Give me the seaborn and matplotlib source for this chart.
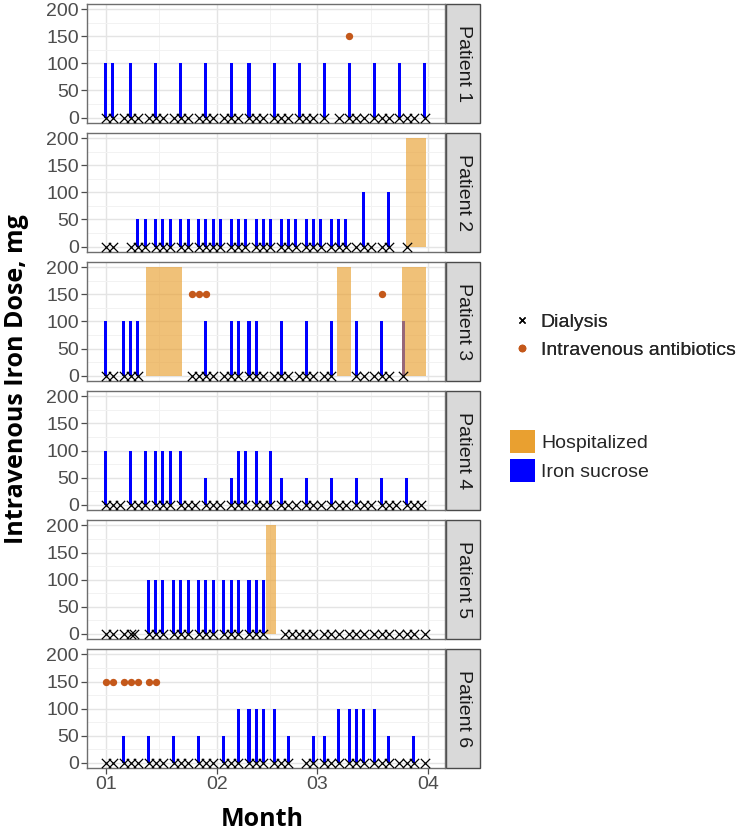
import pandas as pd
import matplotlib.pyplot as plt
import matplotlib.dates as mdates
from matplotlib.lines import Line2D
from matplotlib.patches import Patch, Rectangle
import seaborn as sns

# all days are counted from 1 January
patients = ["Patient 1", "Patient 2", "Patient 3", "Patient 4", "Patient 5", "Patient 6"]

iron1_days = [0, 2, 7, 14, 21, 28, 35, 40, 47, 54, 61, 68, 75, 82, 89]
iron1_dose = [100, 100, 100, 100, 100, 100, 100, 100, 100, 100, 100, 100, 100, 100, 100]
iron2_days = [9, 11, 14, 16, 18, 21, 23, 26, 28, 30, 32, 35, 37, 39, 42, 44, 46,
              49, 51, 53, 56, 58, 60, 63, 65, 67, 72, 79]
iron2_dose = [50, 50, 50, 50, 50, 50, 50, 50, 50, 50, 50, 50, 50, 50, 50, 50, 50,
              50, 50, 50, 50, 50, 50, 50, 50, 50, 100, 100]
iron3_days = [0, 5, 7, 9, 28, 35, 37, 40, 42, 49, 56, 63, 70, 77, 83]
iron3_dose = [100, 100, 100, 100, 100, 100, 100, 100, 100, 100, 100, 100, 100, 100, 100]
iron4_days = [0, 7, 11, 14, 16, 18, 21, 28, 35, 37, 39, 42, 46, 49, 56, 63, 70, 77, 84]
iron4_dose = [100, 100, 100, 100, 100, 100, 100, 50, 50, 100, 100, 100, 100,
              50, 50, 50, 50, 50, 50]
iron5_days = [12, 14, 16, 19, 21, 23, 26, 28, 30, 33, 35, 37, 40, 42, 44]
iron5_dose = [100, 100, 100, 100, 100, 100, 100, 100, 100, 100, 100, 100, 100, 100, 100]
iron6_days = [5, 12, 19, 26, 33, 37, 40, 42, 44, 47, 51, 58, 61, 65, 68, 70, 72, 75, 79, 86]
iron6_dose = [50, 50, 50, 50, 50, 100, 100, 100, 100, 100, 50, 50, 50,
              100, 100, 100, 100, 100, 50, 50]

dial1 = [0, 2, 5, 7, 9, 12, 14, 16, 19, 21, 23, 26, 28, 30, 33, 35, 37, 40, 42, 44,
         47, 49, 51, 54, 56, 58, 61, 65, 68, 70, 72, 75, 77, 79, 82, 84, 86, 89]
dial2 = [0, 2, 7, 9, 11, 14, 16, 18, 21, 23, 26, 28, 30, 32, 35, 37, 39, 42, 44, 46,
         49, 51, 53, 56, 58, 60, 63, 65, 67, 70, 72, 74, 77, 79, 84]
dial3 = [0, 2, 5, 7, 9, 24, 26, 28, 30, 33, 35, 37, 40, 42, 44, 47, 49, 51, 54, 56,
         58, 61, 63, 70, 72, 75, 77, 79, 83]
dial4 = [0, 2, 4, 7, 9, 11, 14, 16, 18, 21, 23, 25, 28, 30, 32, 35, 37, 39, 42, 44,
         46, 49, 51, 53, 56, 58, 60, 63, 65, 67, 70, 72, 74, 77, 79, 81, 84, 86, 88]
dial5 = [0, 2, 5, 7, 8, 12, 14, 16, 19, 21, 23, 26, 28, 30, 33, 35, 37, 40, 42, 44,
         50, 52, 54, 56, 58, 61, 63, 65, 68, 70, 72, 75, 77, 79, 82, 84, 86, 89]
dial6 = [0, 2, 5, 7, 9, 12, 14, 16, 19, 21, 23, 26, 28, 30, 33, 35, 37, 40, 42, 44,
         47, 49, 51, 56, 58, 61, 63, 65, 68, 70, 72, 75, 77, 79, 82, 84, 86, 89]

abx1 = [68]
abx2 = []
abx3 = [24, 26, 28, 77]
abx4 = []
abx5 = []
abx6 = [0, 2, 5, 7, 9, 12, 14]

# hospital stays (start day, end day)
hosp1 = []
hosp2 = [(83.7, 89.5)]
hosp3 = [(11.4, 21.4), (64.7, 68.5), (82.8, 89.5)]
hosp4 = []
hosp5 = [(44.8, 47.5)]
hosp6 = []

dialysis_level = 0
antibiotic_level = 150
hospital_top = 200

iron_days = [iron1_days, iron2_days, iron3_days, iron4_days, iron5_days, iron6_days]
iron_dose = [iron1_dose, iron2_dose, iron3_dose, iron4_dose, iron5_dose, iron6_dose]
dialysis = [dial1, dial2, dial3, dial4, dial5, dial6]
antibiotics = [abx1, abx2, abx3, abx4, abx5, abx6]
hospital = [hosp1, hosp2, hosp3, hosp4, hosp5, hosp6]

start = pd.Timestamp("2019-01-01")


def to_date(d):
    return start + pd.Timedelta(days=d)


rows = []
for p, days, doses in zip(patients, iron_days, iron_dose):
    for d, v in zip(days, doses):
        rows.append({"patient": p, "date": to_date(d), "dose": v})
df_iron = pd.DataFrame(rows)

BLUE = "#0000FF"
ORANGE = "#E9A030"
ABX = "#C4581A"
FS = 14

sns.set_theme(style="white")
plt.rcParams["font.family"] = ["Liberation Sans", "DejaVu Sans"]

g = sns.FacetGrid(df_iron, row="patient", row_order=patients, height=1.3, aspect=3,
                  sharex=True, sharey=True, despine=False)


def draw_iron(data, **kws):
    ax = plt.gca()
    ax.bar(data["date"], data["dose"], width=0.85, color=BLUE, linewidth=0, zorder=2)


g.map_dataframe(draw_iron)
g.set_titles(template="")
g.set_axis_labels("", "")

for i, (p, ax) in enumerate(g.axes_dict.items()):
    # hospital stays
    for s, e in hospital[i]:
        ax.fill_between([to_date(s), to_date(e)], 0, hospital_top,
                        color=ORANGE, alpha=0.65, linewidth=0, zorder=3)
    # dialysis sessions
    df_d = pd.DataFrame({"date": [to_date(d) for d in dialysis[i]],
                         "y": dialysis_level})
    sns.scatterplot(data=df_d, x="date", y="y", marker="x", color="black",
                    s=45, linewidth=0.9, ax=ax, zorder=4, legend=False)
    # antibiotics
    if antibiotics[i]:
        df_a = pd.DataFrame({"date": [to_date(d) for d in antibiotics[i]],
                             "y": antibiotic_level})
        sns.scatterplot(data=df_a, x="date", y="y", marker="o", color=ABX,
                        s=28, linewidth=0, ax=ax, zorder=4, legend=False)

    ax.set_xlim(to_date(-5.2), to_date(94.7))
    ax.set_ylim(-10, 210)
    ax.xaxis.set_major_locator(mdates.MonthLocator())
    ax.xaxis.set_minor_locator(mdates.MonthLocator(bymonthday=16))
    ax.xaxis.set_major_formatter(mdates.DateFormatter("%m"))
    ax.set_yticks([0, 50, 100, 150, 200])
    ax.set_yticks([25, 75, 125, 175], minor=True)
    ax.set_xlabel("")
    ax.set_ylabel("")
    ax.set_axisbelow(True)
    ax.grid(which="major", color="#E4E4E4", linewidth=1.0)
    ax.grid(which="minor", color="#F2F2F2", linewidth=0.7)
    for sp in ax.spines.values():
        sp.set_color("#6E6E6E")
        sp.set_linewidth(1.0)
    ax.tick_params(axis="both", which="major", length=4, width=0.9,
                   color="#4D4D4D", labelcolor="#4D4D4D", labelsize=FS, pad=2)
    ax.tick_params(axis="both", which="minor", length=0)
    ax.tick_params(axis="y", left=True)
    if i < len(patients) - 1:
        ax.tick_params(axis="x", bottom=False, labelbottom=False)
    else:
        ax.tick_params(axis="x", bottom=True, labelbottom=True)

    # facet strip on the right
    ax.add_patch(Rectangle((1.004, 0), 0.094, 1, transform=ax.transAxes,
                           clip_on=False, facecolor="#D9D9D9",
                           edgecolor="#4A4A4A", linewidth=1.0))
    ax.text(1.051, 0.5, p, transform=ax.transAxes, rotation=-90,
            ha="center", va="center", fontsize=FS, color="#1A1A1A")

fig = g.figure
fig.set_size_inches(7.42, 8.32)
fig.subplots_adjust(left=87 / 742, right=445 / 742, top=1 - 4 / 832,
                    bottom=1 - 768 / 832, hspace=0.085)

fig.text(17 / 742, 1 - 379 / 832, "Intravenous Iron Dose, mg", rotation=90,
         ha="center", va="center", fontsize=18, fontweight="bold",
         family=["Open Sans", "DejaVu Sans"], color="black")
fig.text(262 / 742, 1 - 820 / 832, "Month", ha="center", va="center",
         fontsize=18, fontweight="bold", family=["Open Sans", "DejaVu Sans"],
         color="black")

h1 = [Line2D([], [], marker="x", color="black", linestyle="none",
             markersize=5, markeredgewidth=1.0),
      Line2D([], [], marker="o", color=ABX, linestyle="none", markersize=4.5)]
leg1 = fig.legend(h1, ["Dialysis", "Intravenous antibiotics"], loc="upper left",
                  bbox_to_anchor=(512 / 742, 1 - 313 / 832), frameon=False,
                  fontsize=FS, handlelength=1.0, handletextpad=0.48,
                  labelspacing=0.55, borderpad=0, borderaxespad=0)
fig.add_artist(leg1)

h2 = [Patch(facecolor=ORANGE, edgecolor="none"),
      Patch(facecolor=BLUE, edgecolor="none")]
fig.legend(h2, ["Hospitalized", "Iron sucrose"], loc="upper left",
           bbox_to_anchor=(510 / 742, 1 - 430 / 832), frameon=False,
           fontsize=FS, handlelength=1.29, handleheight=1.45, handletextpad=0.31,
           labelspacing=0.28, borderpad=0, borderaxespad=0)

fig.savefig("out.png", dpi=100)
